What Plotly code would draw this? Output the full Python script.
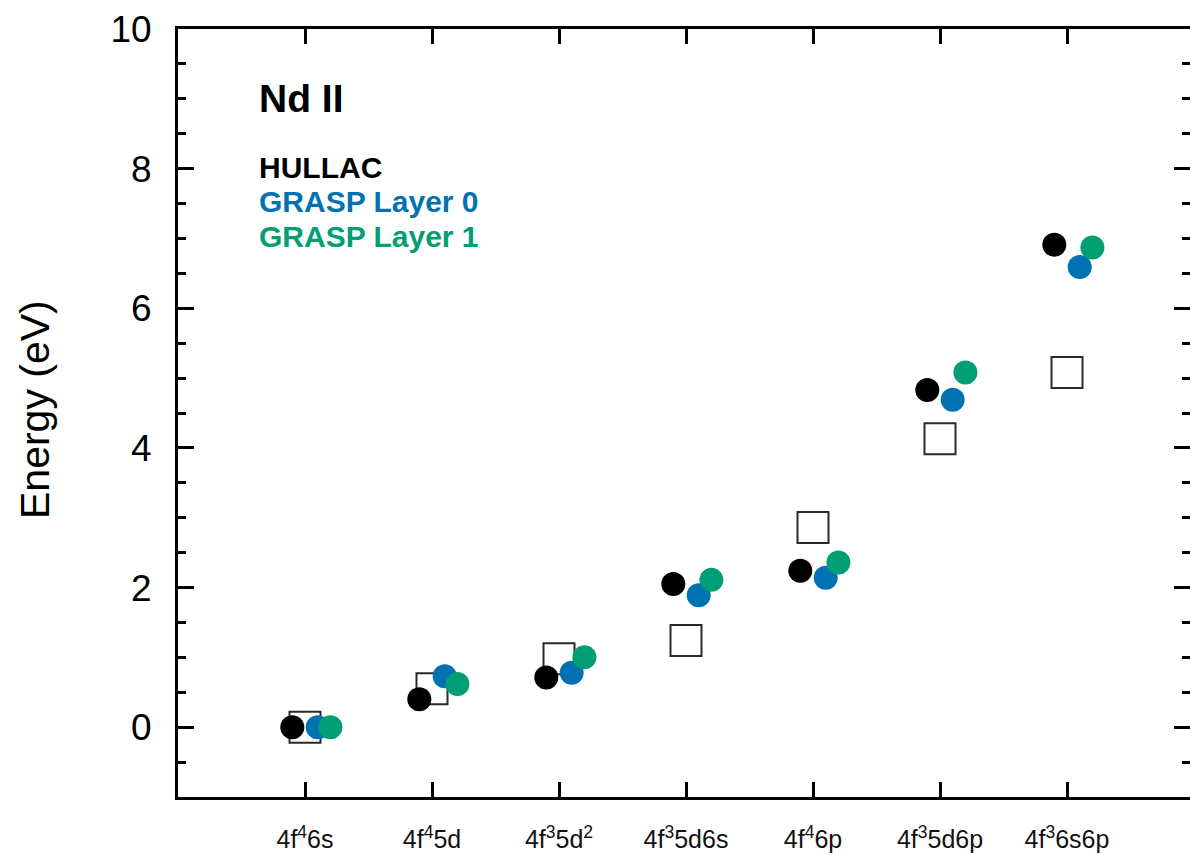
import plotly.graph_objects as go

configs = ["4f<sup>4</sup>6s", "4f<sup>4</sup>5d", "4f<sup>3</sup>5d<sup>2</sup>",
           "4f<sup>3</sup>5d6s", "4f<sup>4</sup>6p", "4f<sup>3</sup>5d6p", "4f<sup>3</sup>6s6p"]
positions = [1, 2, 3, 4, 5, 6, 7]
reference = [0.0, 0.55, 0.98, 1.24, 2.86, 4.13, 5.08]
hullac = [0.0, 0.40, 0.71, 2.05, 2.24, 4.83, 6.91]
grasp0 = [0.0, 0.73, 0.78, 1.89, 2.14, 4.69, 6.59]
grasp1 = [0.0, 0.62, 1.00, 2.11, 2.36, 5.08, 6.87]

BLACK = "#000000"
BLUE = "#0072B2"
GREEN = "#009E73"
FONT = "Liberation Sans, Arial, Helvetica, sans-serif"

def shifted(dx):
    return [p + dx for p in positions]

fig = go.Figure()
fig.add_trace(go.Scatter(x=positions, y=reference, mode="markers", name="Reference",
                         marker=dict(symbol="square-open", size=31, color="#2a2a2a",
                                     line=dict(width=2, color="#2a2a2a"))))
fig.add_trace(go.Scatter(x=shifted(-0.1), y=hullac, mode="markers", name="HULLAC",
                         marker=dict(symbol="circle", size=24, color=BLACK, line=dict(width=0))))
fig.add_trace(go.Scatter(x=shifted(0.1), y=grasp0, mode="markers", name="GRASP Layer 0",
                         marker=dict(symbol="circle", size=24, color=BLUE, line=dict(width=0))))
fig.add_trace(go.Scatter(x=shifted(0.2), y=grasp1, mode="markers", name="GRASP Layer 1",
                         marker=dict(symbol="circle", size=24, color=GREEN, line=dict(width=0))))
# helper trace so the right-hand tick axis is drawn
fig.add_trace(go.Scatter(x=[None], y=[None], yaxis="y2", showlegend=False, hoverinfo="skip"))

W, H = 1190, 854
L, T, B = 178, 29, 57
plot_w = W - L
xmax = plot_w / 127.0

fig.update_layout(
    width=W, height=H,
    margin=dict(l=L, r=0, t=T, b=B, pad=0),
    paper_bgcolor="white", plot_bgcolor="white",
    showlegend=False,
    font=dict(family=FONT, color="black"),
    xaxis=dict(
        range=[0, xmax], tickvals=positions, ticktext=configs,
        showline=True, linewidth=3, linecolor="black", mirror="ticks",
        ticks="inside", ticklen=15, tickwidth=3, tickcolor="black",
        showgrid=False, zeroline=False,
        tickfont=dict(family=FONT, size=25, color="#111111"),
        ticklabelstandoff=18,
    ),
    yaxis=dict(
        range=[-1, 10], tickvals=[0, 2, 4, 6, 8, 10],
        showline=True, linewidth=3, linecolor="black", mirror=False,
        ticks="inside", ticklen=16, tickwidth=3, tickcolor="black",
        minor=dict(dtick=0.5, ticks="inside", ticklen=8, tickwidth=3, tickcolor="black", showgrid=False),
        showgrid=False, zeroline=False,
        tickfont=dict(family=FONT, size=37, color="black"),
        ticklabelstandoff=16,
    ),
    yaxis2=dict(
        range=[-1, 10], overlaying="y", side="right", tickvals=[0, 2, 4, 6, 8, 10],
        showline=False, ticks="inside", ticklen=16, tickwidth=3, tickcolor="black",
        minor=dict(dtick=0.5, ticks="inside", ticklen=8, tickwidth=3, tickcolor="black", showgrid=False),
        showticklabels=False, showgrid=False, zeroline=False,
    ),
)

ann = [
    dict(text="<b>Nd II</b>", y=98, size=39, color=BLACK),
    dict(text="<b>HULLAC</b>", y=167, size=30, color=BLACK),
    dict(text="<b>GRASP Layer 0</b>", y=202, size=30, color=BLUE),
    dict(text="<b>GRASP Layer 1</b>", y=237, size=30, color=GREEN),
]
for a in ann:
    fig.add_annotation(text=a["text"], xref="paper", yref="paper",
                       x=(257 - L) / plot_w, y=1 - (a["y"] - T) / (H - T - B),
                       xanchor="left", yanchor="middle", showarrow=False,
                       font=dict(family=FONT, size=a["size"], color=a["color"]))

fig.add_annotation(text="Energy (eV)", xref="paper", yref="paper",
                   x=(35 - L) / plot_w, y=1 - (410 - T) / (H - T - B),
                   xanchor="center", yanchor="middle", textangle=-90, showarrow=False,
                   font=dict(family=FONT, size=41, color="black"))

fig.write_html("out.html")
